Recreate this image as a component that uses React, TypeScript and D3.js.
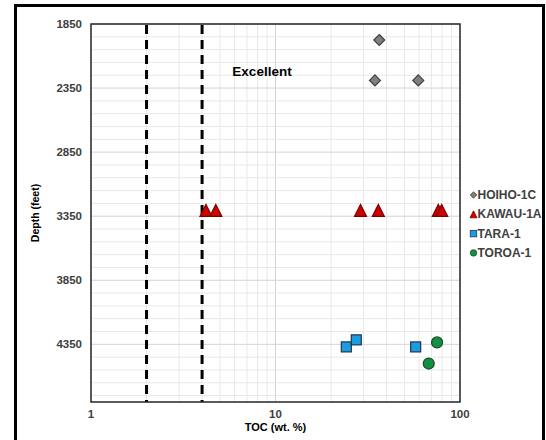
import React from "react";
import * as d3 from "d3";

// Well data: TOC (wt. %) against depth (feet)
const hoihoToc = [36.5, 34.6, 59.4];
const hoihoDepth = [1975, 2290, 2290];

const kawauToc = [4.2, 4.75, 28.9, 36.1, 76.3, 79.6];
const kawauDepth = [3305, 3305, 3305, 3305, 3305, 3305];

const taraToc = [24.2, 27.4, 57.5];
const taraDepth = [4370, 4315, 4370];

const toroaToc = [75.1, 67.7];
const toroaDepth = [4335, 4500];

const yTicks = [1850, 2350, 2850, 3350, 3850, 4350];
const xTicks = [1, 10, 100];
const boundaries = [2, 4];
const seriesNames = ["HOIHO-1C", "KAWAU-1A", "TARA-1", "TOROA-1"];

const W = 546;
const H = 440;
const plot = { left: 91, right: 460, top: 24, bottom: 402 };

const FONT = "'Liberation Sans', Arial, sans-serif";
const LABEL = "#404040";

const colors = {
  hoiho: { fill: "#7f7f7f", stroke: "#3f3f3f" },
  kawau: { fill: "#d00000", stroke: "#7a0000" },
  tara: { fill: "#1b9ce0", stroke: "#1f3550" },
  toroa: { fill: "#109040", stroke: "#1a4a2a" },
};

type Shape = "diamond" | "triangle" | "square" | "circle";

function Marker({ shape, x, y, size, fill, stroke, sw = 1.2 }: { shape: Shape; x: number; y: number; size: number; fill: string; stroke: string; sw?: number }) {
  const r = size / 2;
  if (shape === "diamond") {
    const p = `M${x},${y - r}L${x + r},${y}L${x},${y + r}L${x - r},${y}Z`;
    return <path d={p} fill={fill} stroke={stroke} strokeWidth={sw} />;
  }
  if (shape === "triangle") {
    const p = `M${x},${y - r}L${x + r},${y + r}L${x - r},${y + r}Z`;
    return <path d={p} fill={fill} stroke={stroke} strokeWidth={sw} />;
  }
  if (shape === "square") {
    return <rect x={x - r} y={y - r} width={size} height={size} fill={fill} stroke={stroke} strokeWidth={sw} />;
  }
  return <circle cx={x} cy={y} r={r} fill={fill} stroke={stroke} strokeWidth={sw} />;
}

export default function App() {
  const x = d3.scaleLog().domain([1, 100]).range([plot.left, plot.right]);
  const y = d3.scaleLinear().domain([1850, 4800]).range([plot.top, plot.bottom]);

  // minor grid: every integer in each decade, every 100 ft in depth
  const xGrid: number[] = [];
  for (let dec = 1; dec < 100; dec *= 10) {
    for (let k = 1; k <= 10; k++) xGrid.push(dec * k);
  }
  const yGrid = d3.range(1850, 4801, 100);

  const series = [
    { name: seriesNames[0], shape: "diamond" as Shape, xs: hoihoToc, ys: hoihoDepth, c: colors.hoiho, size: 11 },
    { name: seriesNames[1], shape: "triangle" as Shape, xs: kawauToc, ys: kawauDepth, c: colors.kawau, size: 12 },
    { name: seriesNames[2], shape: "square" as Shape, xs: taraToc, ys: taraDepth, c: colors.tara, size: 10 },
    { name: seriesNames[3], shape: "circle" as Shape, xs: toroaToc, ys: toroaDepth, c: colors.toroa, size: 11 },
  ];

  return (
    <svg width={W} height={H} style={{ position: "absolute", left: 0, top: 0, background: "#fff" }} fontFamily={FONT}>
      <rect x={0} y={0} width={W} height={H} fill="#fff" />
      {/* outer frame */}
      <rect x={15.5} y={5.5} width={528} height={460} fill="none" stroke="#000" strokeWidth={3} />

      {/* grid */}
      <g>
        {xGrid.map((v, i) => (
          <line key={"gx" + i} x1={x(v)} x2={x(v)} y1={plot.top} y2={plot.bottom} stroke={v === 10 ? "#d4d4d4" : "#e8e8e8"} strokeWidth={1} />
        ))}
        {yGrid.map((v, i) => (
          <line key={"gy" + i} x1={plot.left} x2={plot.right} y1={y(v)} y2={y(v)} stroke={(v - 1850) % 500 === 0 ? "#d4d4d4" : "#e8e8e8"} strokeWidth={1} />
        ))}
      </g>

      {/* TOC boundaries */}
      {boundaries.map((b) => (
        <line key={"b" + b} x1={x(b)} x2={x(b)} y1={plot.top} y2={plot.bottom} stroke="#000" strokeWidth={3} strokeDasharray="9,6" strokeDashoffset={-1} />
      ))}

      <text x={262} y={76} textAnchor="middle" fontSize={13.5} fontWeight="bold" fill="#000">Excellent</text>

      {/* plot frame */}
      <rect x={plot.left} y={plot.top} width={plot.right - plot.left} height={plot.bottom - plot.top} fill="none" stroke="#262626" strokeWidth={1.5} />

      {/* y ticks */}
      {yTicks.map((t) => (
        <text key={"yt" + t} x={82} y={y(t) + 4} textAnchor="end" fontSize={11.5} fontWeight="bold" fill={LABEL}>{t}</text>
      ))}
      {/* x ticks */}
      {xTicks.map((t) => (
        <text key={"xt" + t} x={x(t)} y={418} textAnchor="middle" fontSize={11.5} fontWeight="bold" fill={LABEL}>{t}</text>
      ))}

      <text transform={`translate(39,${(plot.top + plot.bottom) / 2}) rotate(-90)`} textAnchor="middle" fontSize={10.5} fontWeight="bold" fill="#000">Depth (feet)</text>
      <text x={(plot.left + plot.right) / 2} y={431} textAnchor="middle" fontSize={11} fontWeight="bold" fill="#000">TOC (wt. %)</text>

      {/* data */}
      {series.map((s) => (
        <g key={s.name}>
          {s.xs.map((v, i) => (
            <Marker key={i} shape={s.shape} x={x(v)} y={y(s.ys[i])} size={s.size} fill={s.c.fill} stroke={s.c.stroke} />
          ))}
        </g>
      ))}

      {/* legend */}
      {series.map((s, i) => {
        const ly = 195 + i * 19.3;
        return (
          <g key={"lg" + s.name}>
            <Marker shape={s.shape} x={473.5} y={ly} size={s.shape === "triangle" ? 7 : 6.5} fill={s.c.fill} stroke={s.c.stroke} sw={0.8} />
            <text x={477.5} y={ly + 4} fontSize={12} fontWeight="bold" fill={LABEL}>{s.name}</text>
          </g>
        );
      })}
    </svg>
  );
}
